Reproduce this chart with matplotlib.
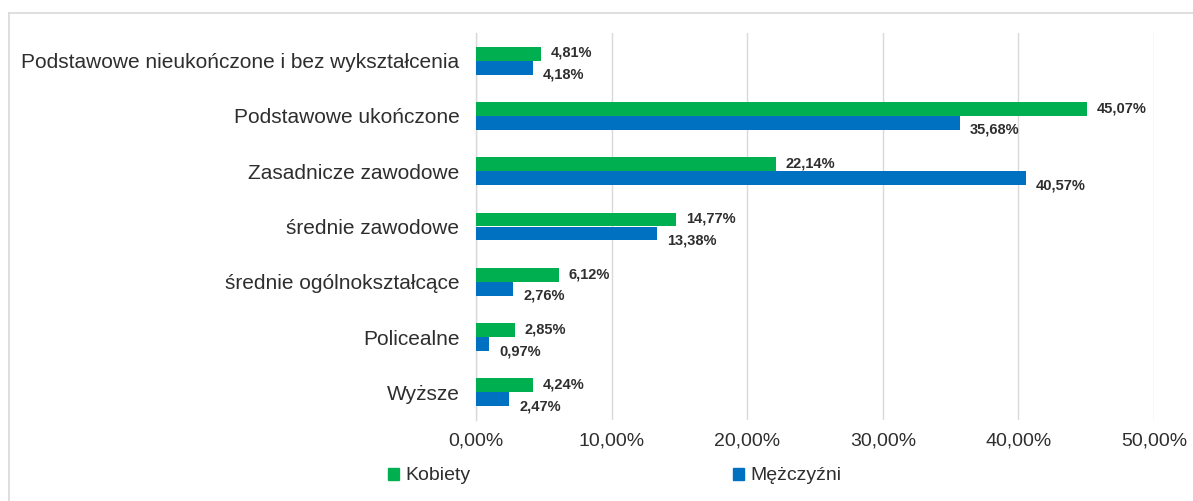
import matplotlib
matplotlib.use("Agg")
import matplotlib.pyplot as plt
from matplotlib.patches import Patch
from matplotlib.lines import Line2D
import numpy as np

plt.rcParams['font.family'] = ['Liberation Sans', 'DejaVu Sans']

categories = [
    "Podstawowe nieukończone i bez wykształcenia",
    "Podstawowe ukończone",
    "Zasadnicze zawodowe",
    "średnie zawodowe",
    "średnie ogólnokształcące",
    "Policealne",
    "Wyższe",
]
kobiety = [4.81, 45.07, 22.14, 14.77, 6.12, 2.85, 4.24]
mezczyzni = [4.18, 35.68, 40.57, 13.38, 2.76, 0.97, 2.47]
xticks = [0, 10, 20, 30, 40, 50]
series_names = ["Kobiety", "Mężczyźni"]

GREEN = "#00B050"
BLUE = "#0070C0"
TXT = "#2E2E2E"

W, H = 1193, 501
fig = plt.figure(figsize=(W / 100, H / 100), dpi=100)
ax = fig.add_axes([476 / W, 1 - 420 / H, (1154 - 476) / W, (420 - 33) / H])

n = len(categories)
y = np.arange(n)
bh = 0.253

ax.barh(y - bh / 2, kobiety, height=bh, color=GREEN, zorder=3)
ax.barh(y + bh / 2, mezczyzni, height=bh, color=BLUE, zorder=3)

def fmt(v):
    return f"{v:.2f}".replace(".", ",") + "%"

for i, v in enumerate(kobiety):
    ax.annotate(fmt(v), (v, i - bh / 2), xytext=(7, 0.5), textcoords="offset points",
                ha="left", va="center", fontsize=10.5, fontweight="bold", color=TXT)
for i, v in enumerate(mezczyzni):
    ax.annotate(fmt(v), (v, i + bh / 2), xytext=(7, -5), textcoords="offset points",
                ha="left", va="center", fontsize=10.5, fontweight="bold", color=TXT)

ax.set_ylim(n - 0.5, -0.5)
ax.set_xlim(0, 50)
ax.set_yticks(y)
ax.set_yticklabels(categories, fontsize=15, color=TXT)
ax.set_xticks(xticks)
ax.set_xticklabels([fmt(t) for t in xticks], fontsize=14, color=TXT)
ax.tick_params(axis="y", length=0, pad=12)
ax.tick_params(axis="x", length=0, pad=9)
ax.grid(axis="x", color="#D9D9D9", linewidth=1, zorder=0)
for s in ["top", "right", "bottom"]:
    ax.spines[s].set_visible(False)
ax.spines["left"].set_color("#D9D9D9")
ax.spines["left"].set_linewidth(1)

# legend
for name, col, xpos in [(series_names[0], GREEN, 388 / W), (series_names[1], BLUE, 733 / W)]:
    fig.legend(handles=[Patch(color=col)], labels=[name], loc="center left",
               bbox_to_anchor=(xpos, 1 - 476 / H), frameon=False, fontsize=14,
               handlelength=0.57, handleheight=0.57, handletextpad=0.3,
               borderpad=0, borderaxespad=0, labelcolor=TXT)

# chart border
fig.add_artist(Line2D([9 / W, 1], [1 - 13 / H, 1 - 13 / H], color="#D9D9D9", lw=1.2,
                      transform=fig.transFigure))
fig.add_artist(Line2D([9 / W, 9 / W], [0, 1 - 13 / H], color="#D9D9D9", lw=1.2,
                      transform=fig.transFigure))

fig.savefig("out.png", dpi=100)
